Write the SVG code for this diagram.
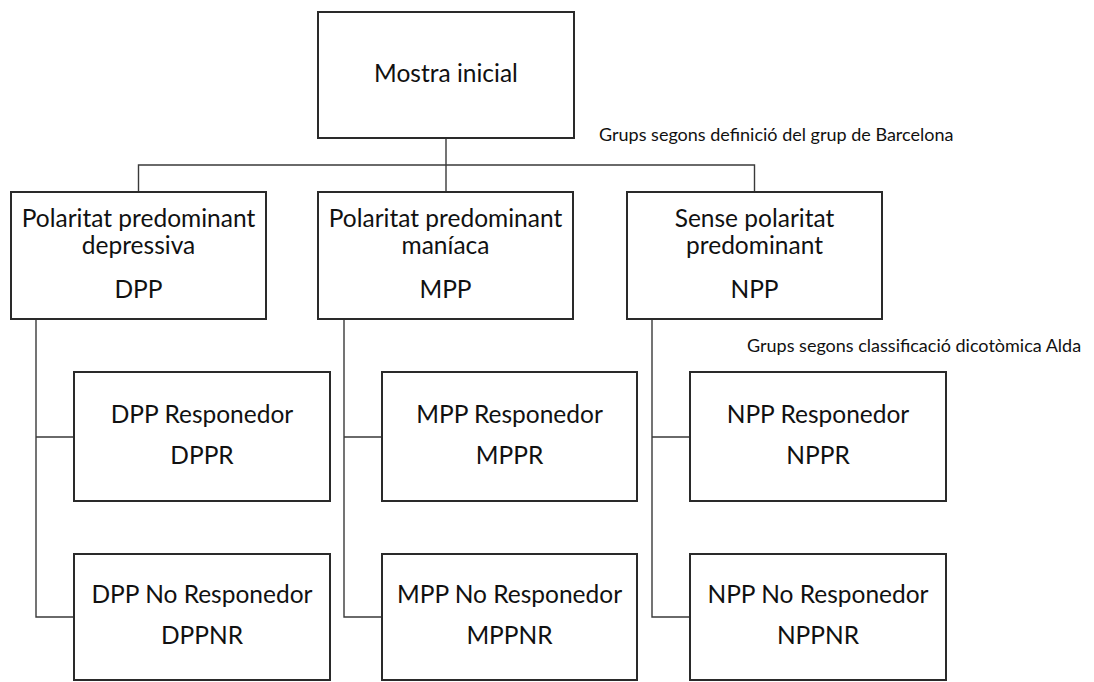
<svg xmlns="http://www.w3.org/2000/svg" width="1094" height="682" viewBox="0 0 1094 682">
<style>
.box{fill:#fff;stroke:#2a2a2a;stroke-width:2}
.c{fill:none;stroke:#3a3a3a;stroke-width:1.4}
.t{font-family:Lato,"Open Sans","Liberation Sans",sans-serif;font-size:24.5px;fill:#111;text-anchor:middle}
.a{font-family:Lato,"Open Sans","Liberation Sans",sans-serif;font-size:18px;fill:#111}
</style>
<rect width="1094" height="682" fill="#fff"/>
<g id="connectors">
<path class="c" d="M446,138 V165 M138.5,192 V165 H754.5 V192 M446,165 V192"/>
<path class="c" d="M36,319 V617 H74 M36,437 H74"/>
<path class="c" d="M344,319 V617 H382 M344,437 H382"/>
<path class="c" d="M652,319 V617 H690 M652,437 H690"/>
</g>
<g id="root"><rect class="box" x="318" y="12" width="256" height="126"/><text class="t" x="446" y="82">Mostra inicial</text></g>
<g id="label1"><text class="a" x="599" y="141">Grups segons definició del grup de Barcelona</text></g>
<g id="dpp"><rect class="box" x="11" y="192" width="255" height="127"/><text class="t" x="138.5" y="227">Polaritat predominant</text><text class="t" x="138.5" y="254">depressiva</text><text class="t" x="138.5" y="298">DPP</text></g>
<g id="mpp"><rect class="box" x="318" y="192" width="255" height="127"/><text class="t" x="445.5" y="227">Polaritat predominant</text><text class="t" x="445.5" y="254">maníaca</text><text class="t" x="445.5" y="298">MPP</text></g>
<g id="npp"><rect class="box" x="627" y="192" width="255" height="127"/><text class="t" x="754.5" y="227">Sense polaritat</text><text class="t" x="754.5" y="254">predominant</text><text class="t" x="754.5" y="298">NPP</text></g>
<g id="label2"><text class="a" x="747" y="352">Grups segons classificació dicotòmica Alda</text></g>
<g id="dppr"><rect class="box" x="74" y="372" width="256" height="129"/><text class="t" x="202" y="423">DPP Responedor</text><text class="t" x="202" y="464">DPPR</text></g>
<g id="dppnr"><rect class="box" x="74" y="554" width="256" height="126"/><text class="t" x="202" y="603">DPP No Responedor</text><text class="t" x="202" y="644">DPPNR</text></g>
<g id="mppr"><rect class="box" x="382" y="372" width="255" height="129"/><text class="t" x="509.5" y="423">MPP Responedor</text><text class="t" x="509.5" y="464">MPPR</text></g>
<g id="mppnr"><rect class="box" x="382" y="554" width="255" height="126"/><text class="t" x="509.5" y="603">MPP No Responedor</text><text class="t" x="509.5" y="644">MPPNR</text></g>
<g id="nppr"><rect class="box" x="690" y="372" width="256" height="129"/><text class="t" x="818" y="423">NPP Responedor</text><text class="t" x="818" y="464">NPPR</text></g>
<g id="nppnr"><rect class="box" x="690" y="554" width="256" height="126"/><text class="t" x="818" y="603">NPP No Responedor</text><text class="t" x="818" y="644">NPPNR</text></g>
</svg>
